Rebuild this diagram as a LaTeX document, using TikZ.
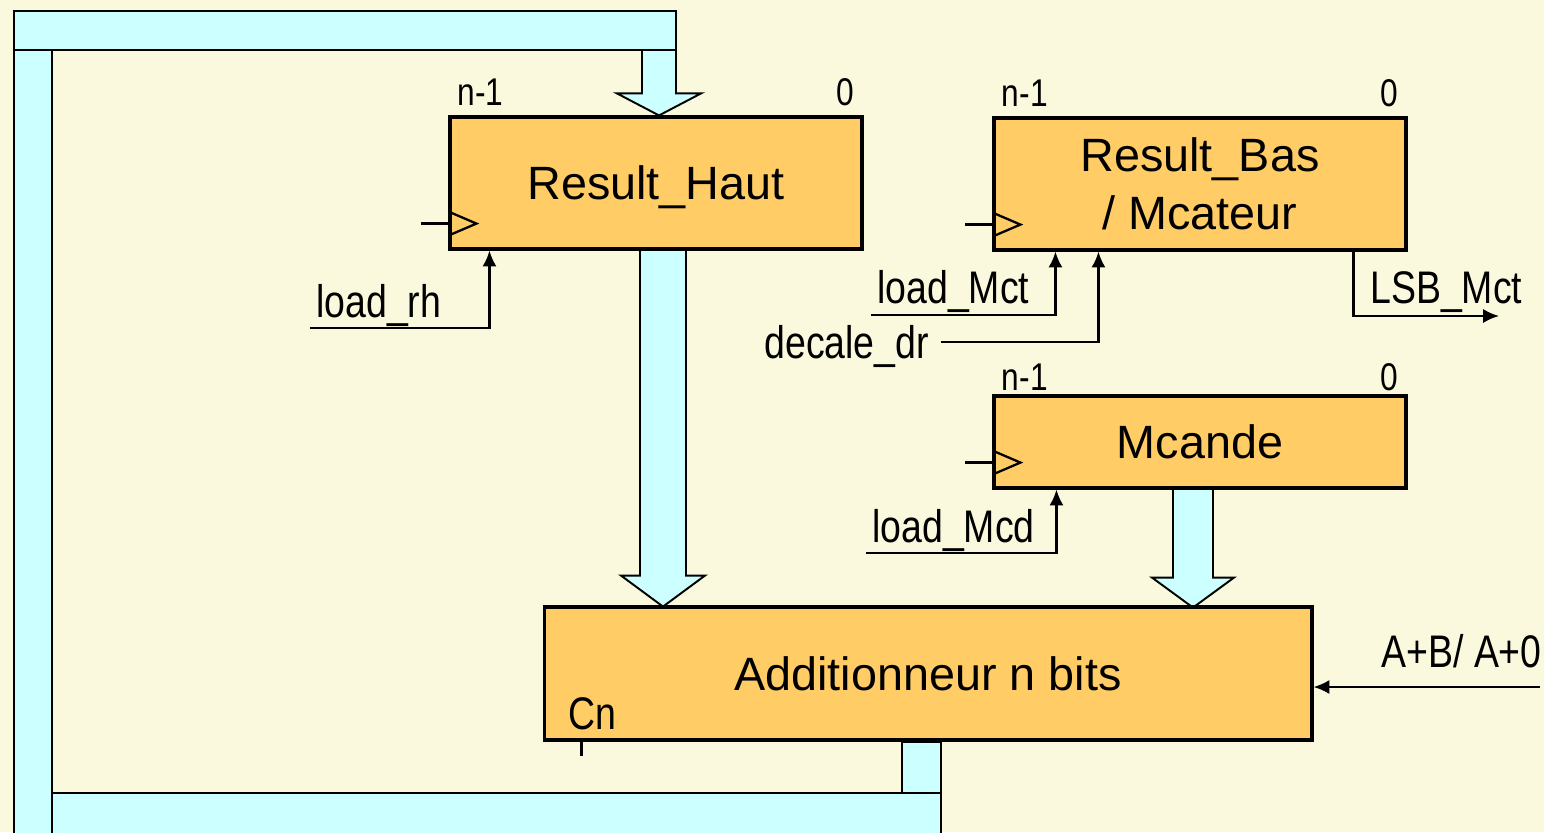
\documentclass[tikz,border=0pt]{standalone}
\usepackage{fontspec}
\usepackage{tikz}
\usetikzlibrary{calc,arrows.meta}
\setmainfont{Liberation Sans}
\newfontfamily\narrowfont[FakeStretch=0.82]{Liberation Sans}
\definecolor{paper}{RGB}{251,249,221}
\definecolor{busfill}{RGB}{204,255,255}
\definecolor{regfill}{RGB}{255,204,102}
\pgfdeclarelayer{background}
\pgfsetlayers{background,main}

\begin{document}
\begin{tikzpicture}[x=0.02cm,y=-0.02cm]
        \tikzstyle{reg node}=[draw,line width=1.8pt,fill=regfill,inner sep=0pt,align=center,font=\fontsize{26.6}{33}\selectfont]
        \tikzstyle{one line}=[text height=19.2pt,text depth=0pt]
        \tikzstyle{sig}=[line width=1.3pt]
        \tikzstyle{sig arrow}=[sig,-{Latex[length=9pt,width=8pt]}]
        \tikzstyle{bus}=[draw,fill=busfill,line width=1.1pt]
        \tikzstyle{lbl}=[inner sep=0pt,anchor=base west,font=\narrowfont\fontsize{26}{31}\selectfont]
        \tikzstyle{bit}=[inner sep=0pt,font=\narrowfont\fontsize{22}{26}\selectfont]
        \useasboundingbox (0,0) rectangle (1544,832);
        \node[reg node,one line,minimum width=8.24cm,minimum height=2.64cm] (ResultHaut) at (656,183) {Result\_Haut};
        \node[reg node,minimum width=8.24cm,minimum height=2.64cm] (ResultBas) at (1200,184) {Result\_Bas\\/ Mcateur};
        \node[reg node,one line,minimum width=8.24cm,minimum height=1.84cm] (Mcande) at (1200,442) {Mcande};
        \node[reg node,one line,minimum width=15.36cm,minimum height=2.66cm] (Adder) at (928,673.5) {Additionneur n bits};
        \foreach \r/\d in {ResultHaut/10,ResultBas/10,Mcande/4} {
            \node[bit,anchor=base west] (\r-msb) at ($(\r.north west)+(9,-\d)$) {n-1};
            \node[bit,anchor=base east] (\r-lsb) at ($(\r.north east)+(-9,-\d)$) {0};
            \draw[sig] ($(\r.south west)+(-27,-27)$) -- ++(27,0);
            \draw[sig] ($(\r.south west)+(0,-39)$) -- ++(28,12) -- ++(-28,12);
        }
        \coordinate (LoadRh) at (310,328);
        \draw[sig arrow] (LoadRh) -| ($(ResultHaut.south west)+(41,0)$);
        \node[lbl] (LoadRhLbl) at (316,317) {load\_rh};
        \coordinate (LoadMct) at (871,315);
        \draw[sig arrow] (LoadMct) -| ($(ResultBas.south west)+(63,0)$);
        \node[lbl] (LoadMctLbl) at (877,303) {load\_Mct};
        \coordinate (DecaleDr) at (941,342);
        \draw[sig arrow] (DecaleDr) -| ($(ResultBas.south west)+(106,0)$);
        \node[lbl] (DecaleDrLbl) at (764,358) {decale\_dr};
        \coordinate (LsbMct) at (1499,316);
        \draw[sig arrow] ($(ResultBas.south east)+(-54,0)$) |- (LsbMct);
        \node[lbl] (LsbMctLbl) at (1370,303) {LSB\_Mct};
        \coordinate (LoadMcd) at (866,553);
        \draw[sig arrow] (LoadMcd) -| ($(Mcande.south west)+(64,0)$);
        \node[lbl] (LoadMcdLbl) at (872,542) {load\_Mcd};
        \coordinate (AddSel) at (1540,687);
        \draw[sig arrow] (AddSel) -- (AddSel -| Adder.east);
        \node[lbl] (AddSelLbl) at (1381,667) {A+B/ A+0};
        \node[lbl] (CnLbl) at ($(Adder.south west)+(26,-12)$) {Cn};
        \draw[sig] ($(Adder.south west)+(39,0)$) -- ++(0,14);
        \begin{pgfonlayer}{background}
            \fill[paper] (0,0) rectangle (1544,832);
            \coordinate (HautIn) at ($(ResultHaut.north)+(3,0)$);
            \draw[bus] (HautIn) -- ++(-42,-22) -- ++(25,0) -- ++(0,-50) -- ++(34,0) -- ++(0,50) -- ++(25,0) -- cycle;
            \draw[bus] (14,11) rectangle (676,50);
            \draw[bus] (14,840) -- (14,50) -- (52,50) -- (52,840);
            \draw[bus] ($(Adder.south)+(-26,0)$) rectangle ++(39,52);
            \draw[bus] (52,840) -- (52,793) -- (941,793) -- (941,840);
            \draw[bus] ($(ResultHaut.south)+(-16,0)$) -- ++(0,325) -- ++(-19,0) -- ++(42,31) -- ++(42,-31) -- ++(-19,0) -- ++(0,-325);
            \draw[bus] ($(Mcande.south)+(-27,0)$) -- ++(0,88) -- ++(-21,0) -- ++(41,30) -- ++(41,-30) -- ++(-21,0) -- ++(0,-88);
        \end{pgfonlayer}
    \end{tikzpicture}
\end{document}
